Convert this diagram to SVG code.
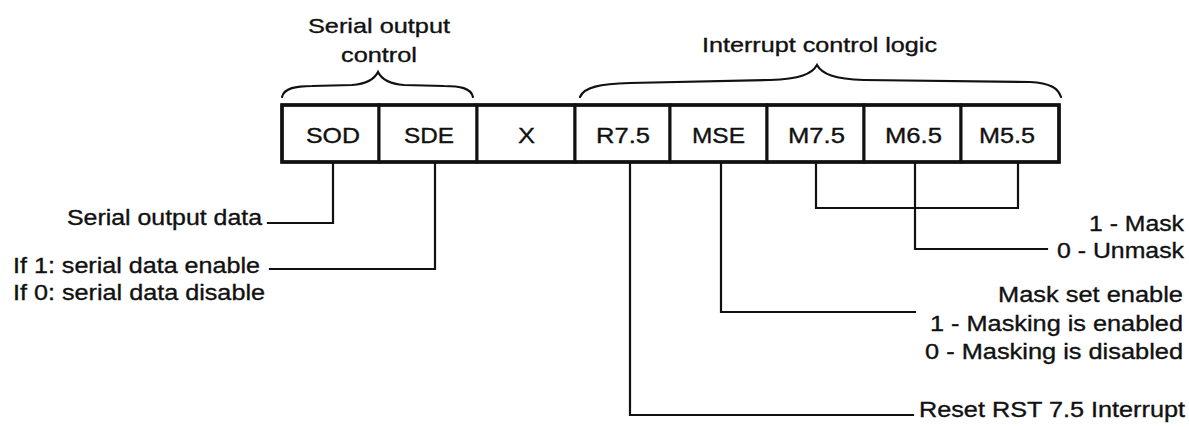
<svg xmlns="http://www.w3.org/2000/svg" width="1189" height="427" viewBox="0 0 1189 427">
<style>
.t{font-family:"Liberation Sans",Arial,sans-serif;font-size:22px;fill:#111;stroke:#111;stroke-width:0.35;}
.h{font-size:21px;}
.cell{fill:#fff;stroke:#111;stroke-width:3;}
.ln{fill:none;stroke:#111;stroke-width:2.2;stroke-linecap:square;stroke-linejoin:miter;}
.br{fill:none;stroke:#111;stroke-width:2.2;stroke-linecap:round;}
</style>
<rect width="1189" height="427" fill="#fff"/>

<g id="braces">
  <path class="br" d="M282,97 C284,88 296,86 312,86 L352,85 C366,84 374,80 378,72 C382,80 390,84 404,85 L444,86 C460,86 471,88 473,97"/>
  <path class="br" d="M580,97 C584,87 600,84 630,83 L770,80 C800,79 812,74 817,65 C822,74 834,79 864,80 L1030,82 C1050,83 1058,88 1061,97"/>
</g>

<g id="title-serial">
  <text class="t h" x="308" y="33" textLength="142" lengthAdjust="spacingAndGlyphs">Serial output</text>
  <text class="t h" x="341" y="62" textLength="76" lengthAdjust="spacingAndGlyphs">control</text>
</g>
<g id="title-interrupt">
  <text class="t h" x="702" y="52" textLength="235" lengthAdjust="spacingAndGlyphs">Interrupt control logic</text>
</g>

<g id="register">
  <g id="cell-SOD"><rect class="cell" x="282" y="105" width="97" height="57"/><text class="t" x="306" y="143" textLength="54" lengthAdjust="spacingAndGlyphs">SOD</text></g>
  <g id="cell-SDE"><rect class="cell" x="379" y="105" width="98" height="57"/><text class="t" x="404" y="143" textLength="50" lengthAdjust="spacingAndGlyphs">SDE</text></g>
  <g id="cell-X"><rect class="cell" x="477" y="105" width="98" height="57"/><text class="t" x="518" y="143" textLength="17" lengthAdjust="spacingAndGlyphs">X</text></g>
  <g id="cell-R75"><rect class="cell" x="575" y="105" width="95" height="57"/><text class="t" x="596" y="143" textLength="54" lengthAdjust="spacingAndGlyphs">R7.5</text></g>
  <g id="cell-MSE"><rect class="cell" x="670" y="105" width="97" height="57"/><text class="t" x="692" y="143" textLength="53" lengthAdjust="spacingAndGlyphs">MSE</text></g>
  <g id="cell-M75"><rect class="cell" x="767" y="105" width="97" height="57"/><text class="t" x="788" y="143" textLength="57" lengthAdjust="spacingAndGlyphs">M7.5</text></g>
  <g id="cell-M65"><rect class="cell" x="864" y="105" width="97" height="57"/><text class="t" x="885" y="143" textLength="57" lengthAdjust="spacingAndGlyphs">M6.5</text></g>
  <g id="cell-M55"><rect class="cell" x="961" y="105" width="98" height="57"/><text class="t" x="979" y="143" textLength="56" lengthAdjust="spacingAndGlyphs">M5.5</text></g>
  <rect x="282" y="105" width="777" height="57" fill="none" stroke="#111" stroke-width="3.5"/>
</g>

<g id="connectors">
  <path class="ln" d="M333,164 V223 H268"/>
  <path class="ln" d="M435,164 V269 H270"/>
  <path class="ln" d="M630,164 V415 H913"/>
  <path class="ln" d="M721,164 V312 H915"/>
  <path class="ln" d="M816,164 V208 H1018 V164"/>
  <path class="ln" d="M915,164 V249 H1047"/>
</g>

<g id="label-sod">
  <text class="t" x="67" y="225" textLength="195" lengthAdjust="spacingAndGlyphs">Serial output data</text>
</g>
<g id="label-sde">
  <text class="t" x="13" y="273" textLength="247" lengthAdjust="spacingAndGlyphs">If 1: serial data enable</text>
  <text class="t" x="13" y="300" textLength="252" lengthAdjust="spacingAndGlyphs">If 0: serial data disable</text>
</g>
<g id="label-mask">
  <text class="t" x="1089" y="231" textLength="95" lengthAdjust="spacingAndGlyphs">1 - Mask</text>
  <text class="t" x="1057" y="258" textLength="127" lengthAdjust="spacingAndGlyphs">0 - Unmask</text>
</g>
<g id="label-mse">
  <text class="t" x="998" y="302" textLength="185" lengthAdjust="spacingAndGlyphs">Mask set enable</text>
  <text class="t" x="930" y="331" textLength="253" lengthAdjust="spacingAndGlyphs">1 - Masking is enabled</text>
  <text class="t" x="925" y="359" textLength="258" lengthAdjust="spacingAndGlyphs">0 - Masking is disabled</text>
</g>
<g id="label-r75">
  <text class="t" x="919" y="417" textLength="266" lengthAdjust="spacingAndGlyphs">Reset RST 7.5 Interrupt</text>
</g>
</svg>
